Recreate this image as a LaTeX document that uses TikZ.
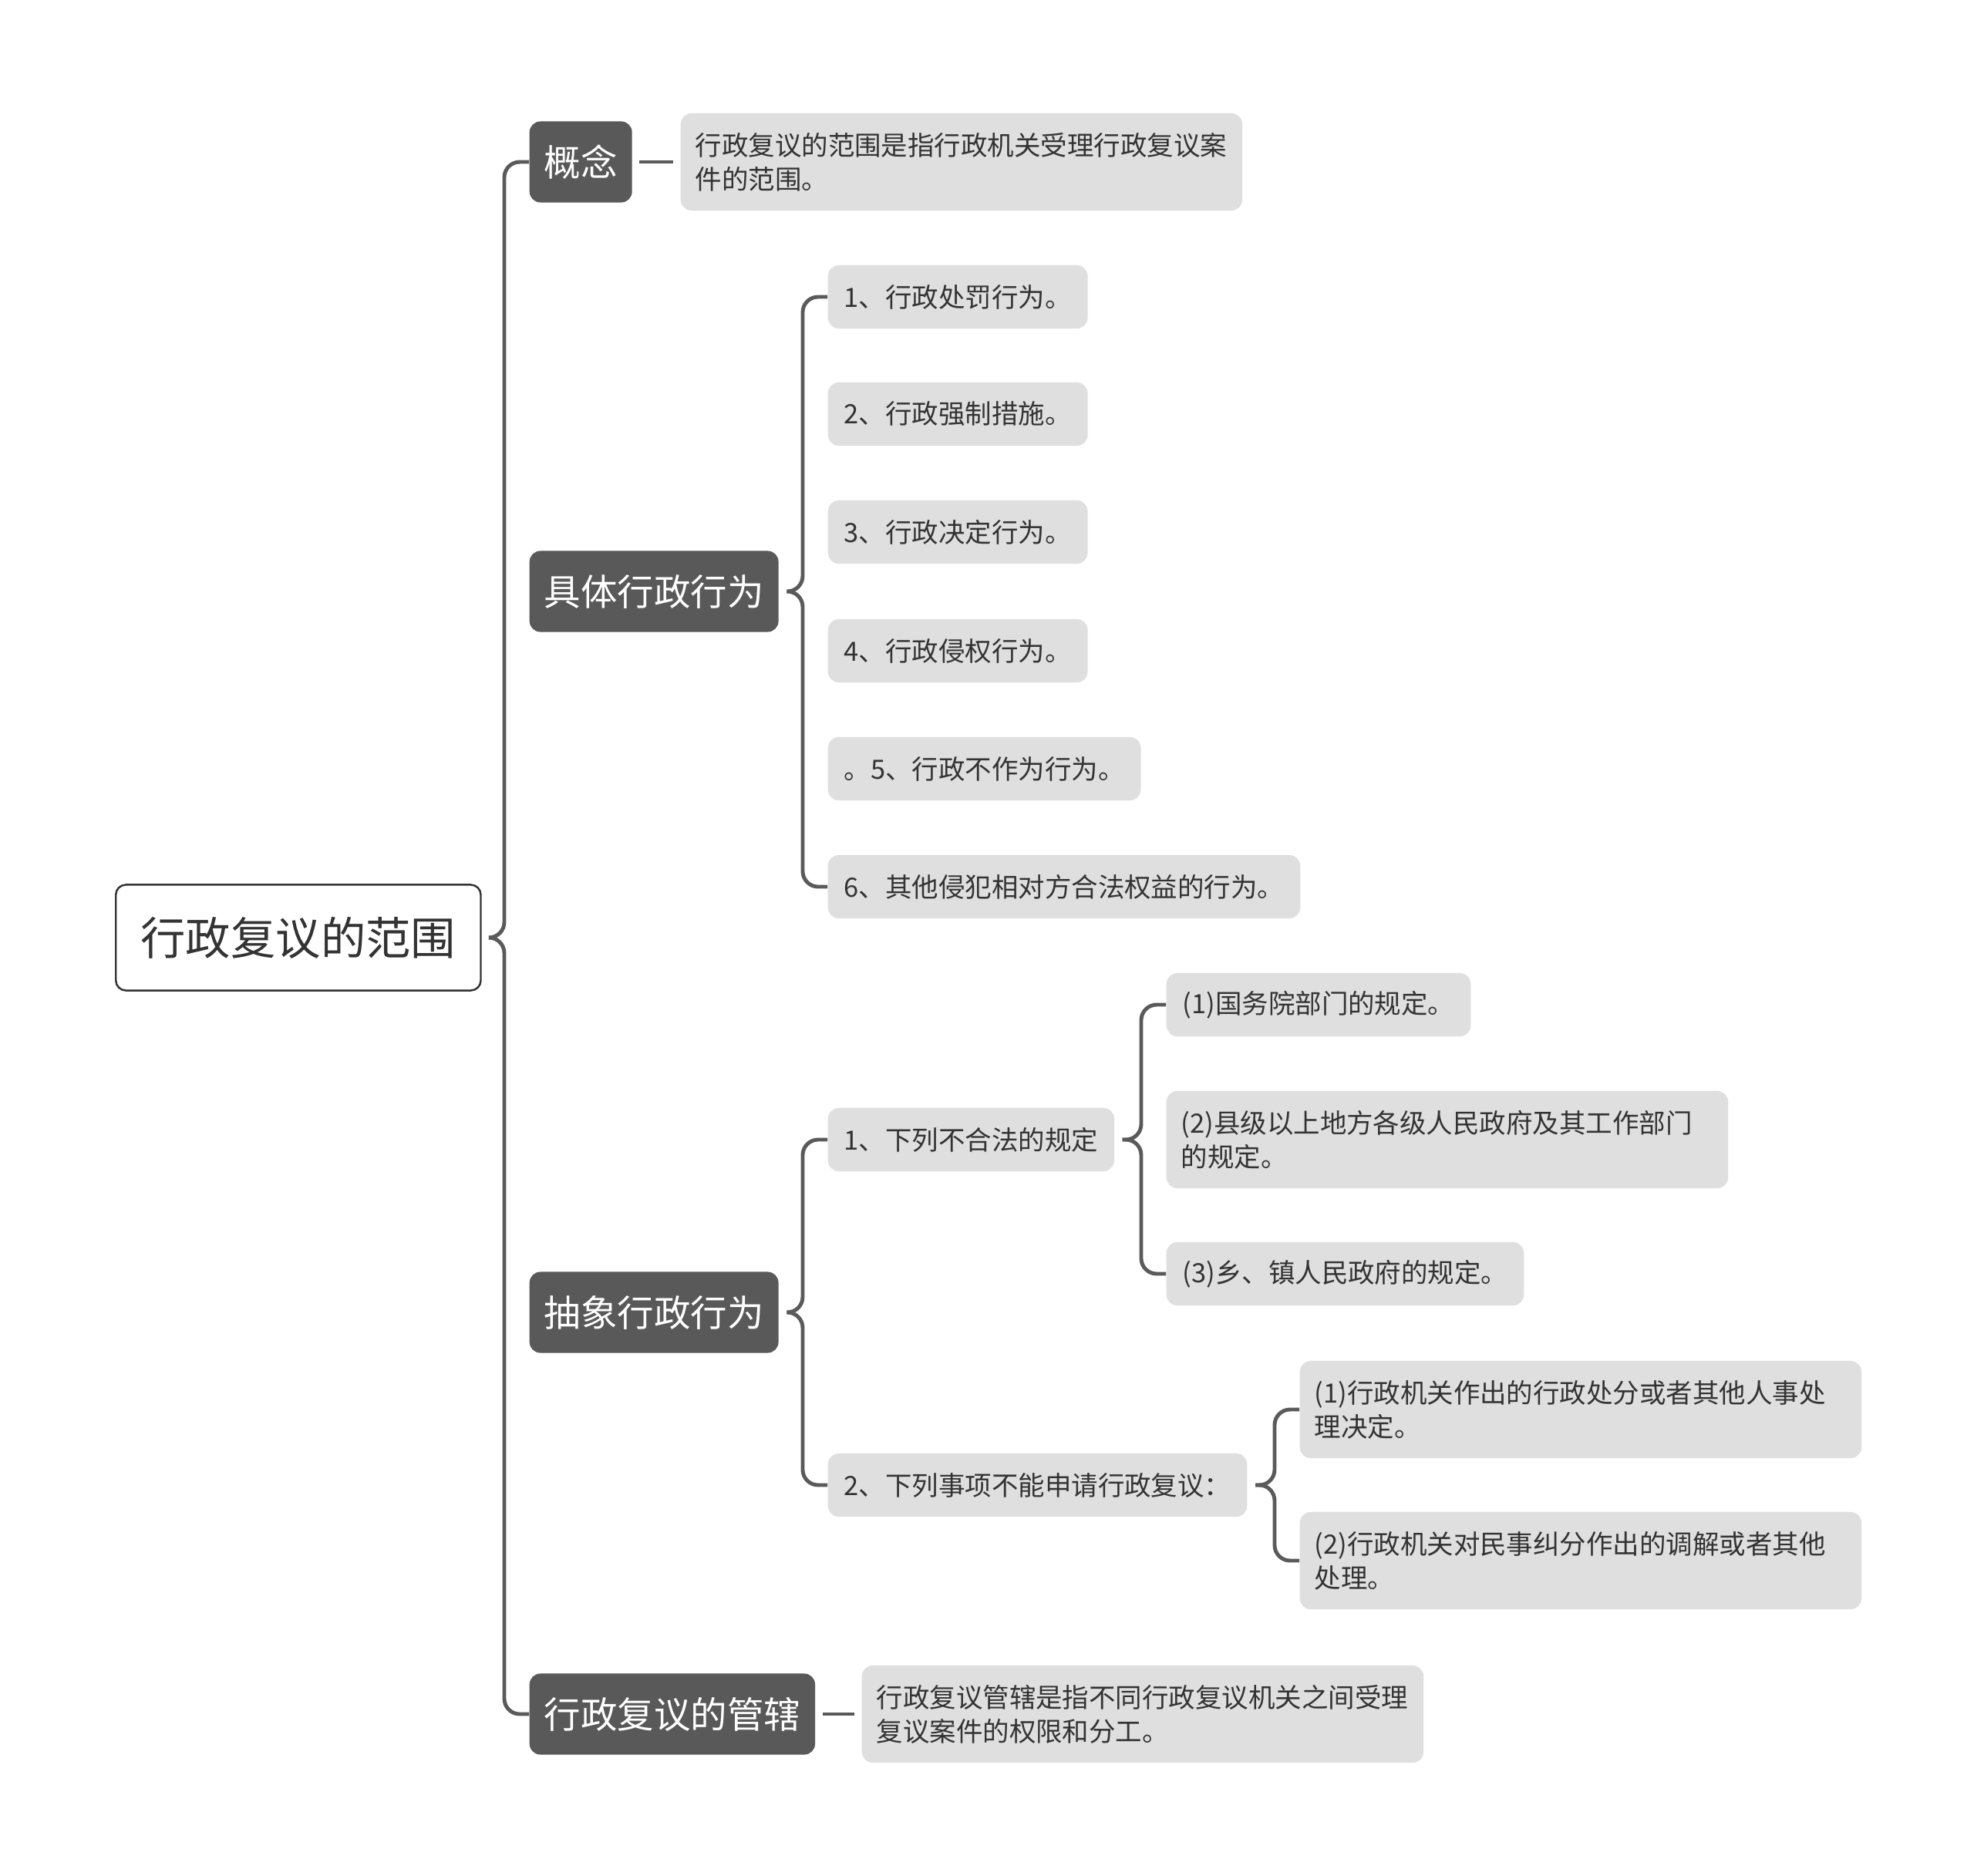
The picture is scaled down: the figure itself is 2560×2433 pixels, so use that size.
\documentclass[tikz,border=0pt]{standalone}
\usepackage{fontspec}
\setmainfont{Noto Sans CJK SC}
\definecolor{linegray}{HTML}{5A5A5A}
\definecolor{catgray}{HTML}{595959}
\definecolor{leafgray}{HTML}{DFDFDF}
\definecolor{textgray}{HTML}{333333}
\tikzset{
  rootbox/.style={draw=textgray, line width=0.7pt, rounded corners=0.13cm, fill=white,
    text=textgray, minimum width=4.73cm, minimum height=1.37cm,
    font=\fontsize{16.6pt}{20pt}\selectfont, anchor=west},
  catbox/.style={fill=catgray, rounded corners=0.14cm, text=white, inner xsep=0.19cm,
    minimum height=1.05cm, font=\fontsize{13.5pt}{16pt}\selectfont, anchor=west},
  leafbox/.style={fill=leafgray, rounded corners=0.14cm, text=textgray, inner xsep=0.21cm,
    minimum height=0.82cm, font=\fontsize{9.8pt}{12.5pt}\selectfont, anchor=west},
  longbox/.style={leafbox, inner xsep=0.19cm, text width=6.9cm, align=left, minimum height=1.26cm},
  conn/.style={draw=linegray, line width=1.4pt, rounded corners=0.2cm},
}
% brace-like branch from parent to its outer children
\newcommand{\branch}[2]{\draw[conn] ([xshift=0.1cm]#1.east) -| ([xshift=-0.32cm]#2.west) -- (#2.west);}
\begin{document}
\begin{tikzpicture}[x=0.01cm, y=-0.01cm]
    \fill[white] (0,0) rectangle (2560,2433);
    \useasboundingbox (0,0) rectangle (2560,2433);
    % Root
    \node[rootbox] (root) at (149,1216) {行政复议的范围};
    % First level
    \node[catbox] (gainian) at (686,210) {概念};
    \node[catbox] (juti) at (686,767) {具体行政行为};
    \node[catbox] (chouxiang) at (686,1702) {抽象行政行为};
    \node[catbox] (guanxia) at (686,2223) {行政复议的管辖};
    % Definitions
    \node[longbox] (gainianTxt) at (882,210) {行政复议的范围是指行政机关受理行政复议案\\件的范围。};
    \node[longbox] (guanxiaTxt) at (1117,2223) {行政复议管辖是指不同行政复议机关之间受理\\复议案件的权限和分工。};
    % Specific acts
    \node[leafbox] (j1) at (1073,385) {1、行政处罚行为。};
    \node[leafbox] (j2) at (1073,537) {2、行政强制措施。};
    \node[leafbox] (j3) at (1073,690) {3、行政决定行为。};
    \node[leafbox] (j4) at (1073,844) {4、行政侵权行为。};
    \node[leafbox] (j5) at (1073,997) {。5、行政不作为行为。};
    \node[leafbox] (j6) at (1073,1150) {6、其他侵犯相对方合法权益的行为。};
    % Abstract acts
    \node[leafbox] (c1) at (1073,1478) {1、下列不合法的规定};
    \node[leafbox] (c2) at (1073,1926) {2、下列事项不能申请行政复议：};
    \node[leafbox] (c11) at (1512,1303) {(1)国务院部门的规定。};
    \node[longbox] (c12) at (1512,1478) {(2)县级以上地方各级人民政府及其工作部门\\的规定。};
    \node[leafbox] (c13) at (1512,1652) {(3)乡、镇人民政府的规定。};
    \node[longbox] (c21) at (1685,1828) {(1)行政机关作出的行政处分或者其他人事处\\理决定。};
    \node[longbox] (c22) at (1685,2024) {(2)行政机关对民事纠分作出的调解或者其他\\处理。};
    % Braces (only the outer children get a stub)
    \branch{root}{gainian}
    \branch{root}{guanxia}
    \branch{juti}{j1}
    \branch{juti}{j6}
    \branch{chouxiang}{c1}
    \branch{chouxiang}{c2}
    \branch{c1}{c11}
    \branch{c1}{c13}
    \branch{c2}{c21}
    \branch{c2}{c22}
    % Single links
    \draw[conn] ([xshift=0.09cm]gainian.east) -- ([xshift=-0.09cm]gainianTxt.west);
    \draw[conn] ([xshift=0.09cm]guanxia.east) -- ([xshift=-0.09cm]guanxiaTxt.west);
\end{tikzpicture}
\end{document}
